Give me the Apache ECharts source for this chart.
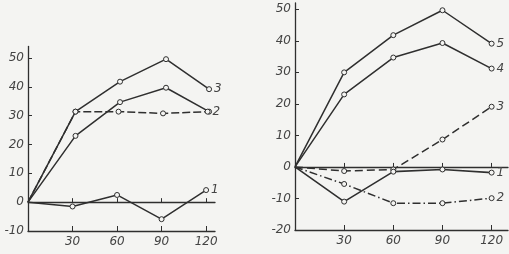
<!DOCTYPE html>
<html>
<head>
<meta charset="utf-8">
<script src="https://cdn.jsdelivr.net/npm/echarts@6/dist/echarts.min.js"></script>
<style>
html,body{margin:0;padding:0;background:#f4f4f2;}
#c{width:509px;height:254px;}
</style>
</head>
<body>
<div id="c"></div>
<script>
// ---- tick labels ----
const xTicks = [30, 60, 90, 120];
const yTicksLeft = [-10, 0, 10, 20, 30, 40, 50];
const yTicksRight = [-20, -10, 0, 10, 20, 30, 40, 50];

// ---- left panel ----
const L3_x = [0, 32, 62, 93, 122];
const L3_y = [0, 31.4, 41.8, 49.6, 39.2];
const L2solid_x = [0, 32, 62, 93, 122];
const L2solid_y = [0, 23, 34.7, 39.7, 31.4];
const L2dash_x = [0, 32, 61, 91, 121];
const L2dash_y = [0, 31.4, 31.4, 30.8, 31.4];
const L1_x = [0, 30, 60, 90, 120];
const L1_y = [0, -1.5, 2.5, -5.9, 4.2];

// ---- right panel ----
const R_x = [0, 30, 60, 90, 120];
const R5_y = [0, 30, 41.8, 49.7, 39.1];
const R4_y = [0, 23, 34.7, 39.3, 31.2];
const R3_y = [0, -1.3, -0.8, 8.7, 19.1];
const R1_y = [0, -11, -1.5, -0.8, -1.8];
const R2_y = [0, -5.4, -11.5, -11.5, -9.9];

const INK = '#2f2f2f';
const BG = '#f4f4f2';
const FONT = {fontFamily: 'DejaVu Sans', fontStyle: 'italic', fontSize: 12, color: '#444'};

function pts(xs, ys) {
  return xs.map((x, i) => i === 0 ? {value: [x, ys[i]], symbol: 'none'} : [x, ys[i]]);
}
function ser(idx, xs, ys, label, type, width) {
  return {
    type: 'line', xAxisIndex: idx * 2, yAxisIndex: idx,
    data: pts(xs, ys),
    symbol: 'circle', symbolSize: 5,
    itemStyle: {color: BG, borderColor: INK, borderWidth: 1},
    lineStyle: {color: INK, width: width || 1.5, type: type || 'solid'},
    endLabel: label ? Object.assign({show: true, formatter: label, distance: 5}, FONT) : {show: false},
    z: 3
  };
}
function xAxes(grid, max) {
  return [
    {type: 'value', gridIndex: grid, min: 0, max: max, position: 'bottom',
     axisLine: {onZero: false, lineStyle: {color: INK, width: 1.3}},
     axisTick: {inside: true, length: 5, customValues: xTicks, lineStyle: {color: INK}},
     axisLabel: Object.assign({customValues: xTicks, margin: 5}, FONT),
     splitLine: {show: false}},
    {type: 'value', gridIndex: grid, min: 0, max: max, position: 'top',
     axisLine: {onZero: true, lineStyle: {color: INK, width: 1.3}},
     axisTick: {inside: false, length: 4, customValues: xTicks, lineStyle: {color: INK}},
     axisLabel: {show: false},
     splitLine: {show: false}}
  ];
}
function yAxis(grid, min, max, ticks) {
  return {type: 'value', gridIndex: grid, min: min, max: max,
    axisLine: {onZero: false, lineStyle: {color: INK, width: 1.3}},
    axisTick: {inside: true, length: 4, customValues: ticks, lineStyle: {color: INK}},
    axisLabel: Object.assign({customValues: ticks, margin: 4}, FONT),
    splitLine: {show: false}};
}

const chart = echarts.init(document.getElementById('c'), null, {renderer: 'canvas'});
chart.setOption({
  animation: false,
  backgroundColor: BG,
  grid: [
    {left: 28, top: 46.5, width: 187, height: 184.5},
    {left: 295, top: 3, width: 213, height: 227}
  ],
  xAxis: [].concat(xAxes(0, 126), xAxes(1, 130)),
  yAxis: [yAxis(0, -10, 54, yTicksLeft), yAxis(1, -20, 52, yTicksRight)],
  series: [
    ser(0, L3_x, L3_y, '3'),
    ser(0, L2solid_x, L2solid_y, ''),
    ser(0, L2dash_x, L2dash_y, '2', [8, 3]),
    ser(0, L1_x, L1_y, '1'),
    ser(1, R_x, R5_y, '5'),
    ser(1, R_x, R4_y, '4'),
    ser(1, R_x, R3_y, '3', [8, 4]),
    ser(1, R_x, R1_y, '1', 'solid', 1.6),
    ser(1, R_x, R2_y, '2', [8, 3, 1.5, 3])
  ]
});
</script>
</body>
</html>
